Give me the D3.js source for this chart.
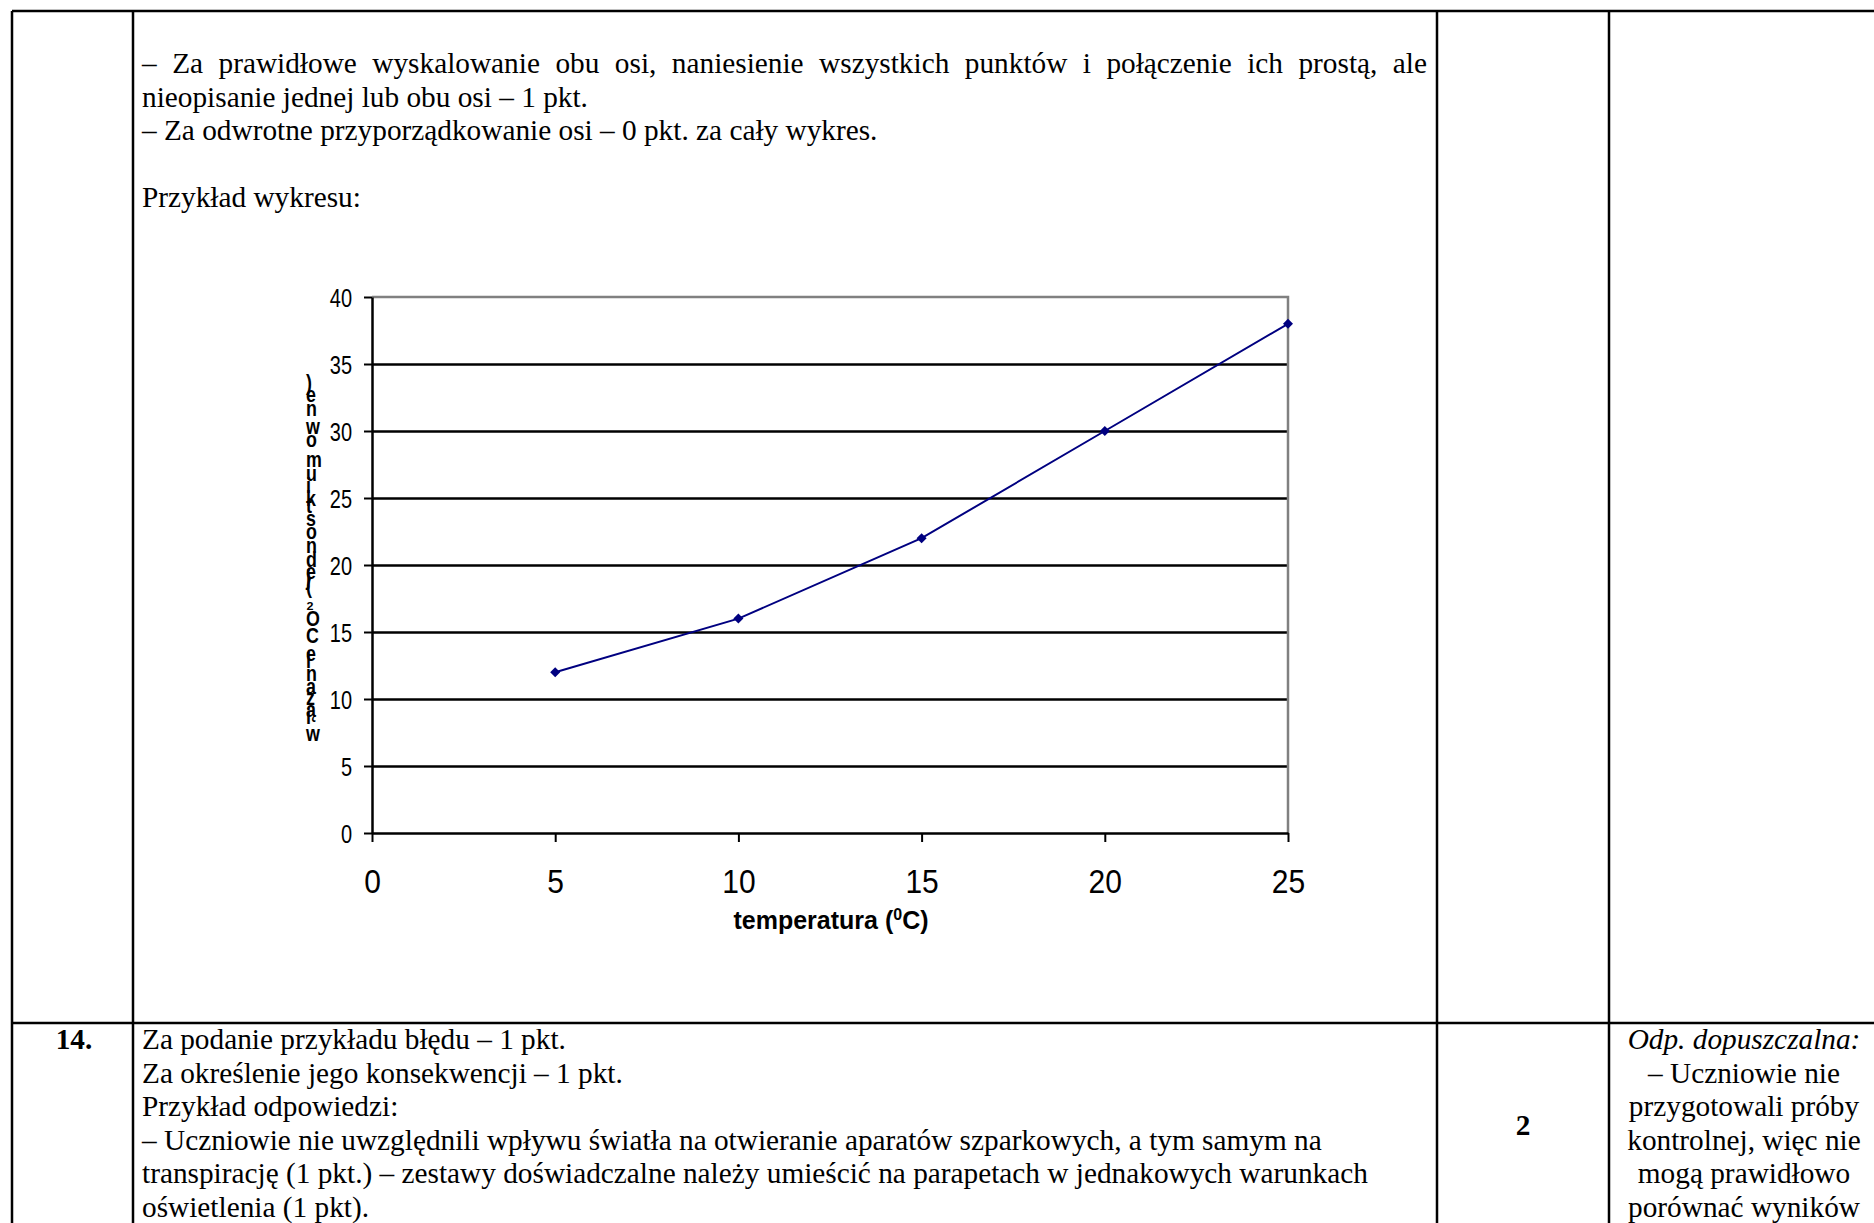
<!DOCTYPE html>
<html>
<head>
<meta charset="utf-8">
<script src="https://cdn.jsdelivr.net/npm/d3@7"></script>
<style>
  body { margin: 0; background: #fff; }
  svg { display: block; }
</style>
</head>
<body>
<svg id="page"></svg>
<script>
// chart data
const temps = [5, 10, 15, 20, 25];
const co2 = [12, 16, 22, 30, 38];
const xTicks = [0, 5, 10, 15, 20, 25];
const yTicks = [0, 5, 10, 15, 20, 25, 30, 35, 40];
const xTitle = "temperatura (";
const yTitle = "wiązanie CO₂ (jednostki umowne)";

// surrounding text of the scoring sheet
const topLines = [
  "– Za prawidłowe wyskalowanie obu osi, naniesienie wszystkich punktów i połączenie ich prostą, ale",
  "nieopisanie jednej lub obu osi – 1 pkt.",
  "– Za odwrotne przyporządkowanie osi – 0 pkt. za cały wykres.",
  "",
  "Przykład wykresu:"
];
const bottomLines = [
  "Za podanie przykładu błędu – 1 pkt.",
  "Za określenie jego konsekwencji – 1 pkt.",
  "Przykład odpowiedzi:",
  "– Uczniowie nie uwzględnili wpływu światła na otwieranie aparatów szparkowych, a tym samym na",
  "transpirację (1 pkt.) – zestawy doświadczalne należy umieścić na parapetach w jednakowych warunkach",
  "oświetlenia (1 pkt)."
];
const noteLines = [
  "Odp. dopuszczalna:",
  "– Uczniowie nie",
  "przygotowali próby",
  "kontrolnej, więc nie",
  "mogą prawidłowo",
  "porównać wyników"
];

const W = 1874, H = 1223;
const svg = d3.select('#page').attr('width', W).attr('height', H);

const serif = "'Liberation Serif', 'Times New Roman', serif";
const sans = "'Liberation Sans', Arial, sans-serif";
const fs = 29.3, lh = 33.6;

// table grid
const cols = [12, 133, 1437, 1609];
const rowTop = 11, rowMid = 1023;
const grid = svg.append('g').attr('stroke', '#000').attr('stroke-width', 2.5);
grid.append('line').attr('x1', cols[0]).attr('x2', W).attr('y1', rowTop).attr('y2', rowTop);
grid.append('line').attr('x1', cols[0]).attr('x2', W).attr('y1', rowMid).attr('y2', rowMid);
cols.forEach(c => grid.append('line').attr('x1', c).attr('x2', c).attr('y1', rowTop).attr('y2', H));

// top cell text
const textX = 142, textRight = 1427;
topLines.forEach((line, i) => {
  if (!line) return;
  const y = 73 + i * lh;
  if (i === 0) {
    // justified line
    const words = line.split(' ');
    const nodes = words.map(w => svg.append('text')
      .attr('y', y).style('font-family', serif).style('font-size', fs + 'px').text(w));
    const widths = nodes.map(n => n.node().getComputedTextLength());
    const gap = (textRight - textX - d3.sum(widths)) / (words.length - 1);
    let x = textX;
    nodes.forEach((n, j) => { n.attr('x', x); x += widths[j] + gap; });
  } else {
    svg.append('text').attr('x', textX).attr('y', y)
      .style('font-family', serif).style('font-size', fs + 'px').text(line);
  }
});

// bottom row
const by = 1049;
svg.append('text').attr('x', 74).attr('y', by).attr('text-anchor', 'middle')
  .style('font-family', serif).style('font-size', fs + 'px').style('font-weight', 'bold').text('14.');
bottomLines.forEach((line, i) => {
  svg.append('text').attr('x', textX).attr('y', by + i * lh)
    .style('font-family', serif).style('font-size', fs + 'px').text(line);
});
svg.append('text').attr('x', 1523).attr('y', 1135).attr('text-anchor', 'middle')
  .style('font-family', serif).style('font-size', fs + 'px').style('font-weight', 'bold').text('2');
noteLines.forEach((line, i) => {
  svg.append('text').attr('x', 1744).attr('y', by + i * lh).attr('text-anchor', 'middle')
    .style('font-family', serif).style('font-size', fs + 'px')
    .style('font-style', i === 0 ? 'italic' : 'normal').text(line);
});

// chart
const x = d3.scaleLinear().domain([0, 25]).range([372, 1288]);
const y = d3.scaleLinear().domain([0, 40]).range([833, 297]);
const chart = svg.append('g');

// gridlines
chart.append('g')
  .attr('transform', `translate(${x(0)},0)`)
  .call(d3.axisLeft(y).tickValues(yTicks.filter(v => v > 0 && v < 40)).tickSize(-(x(25) - x(0))).tickFormat(''))
  .call(g => g.select('.domain').remove())
  .call(g => g.selectAll('line').attr('stroke', '#000').attr('stroke-width', 2.5));

// plot border (top and right) in grey
chart.append('path')
  .attr('d', `M${x(0)},${y(40)}H${x(25)}V${y(0)}`)
  .attr('fill', 'none').attr('stroke', '#808080').attr('stroke-width', 2.5);

// y axis
chart.append('g')
  .attr('transform', `translate(${x(0)},0)`)
  .call(d3.axisLeft(y).tickValues(yTicks).tickSize(8).tickSizeOuter(0))
  .call(g => g.select('.domain').attr('stroke', '#000').attr('stroke-width', 2.5))
  .call(g => g.selectAll('line').attr('stroke', '#000').attr('stroke-width', 2))
  .call(g => g.selectAll('text').attr('x', -20).attr('dy', '0.36em')
    .attr('transform', 'scale(1,1.3)')
    .style('font-family', sans).style('font-size', '20px').attr('fill', '#000'));

// x axis
chart.append('g')
  .attr('transform', `translate(0,${y(0)})`)
  .call(d3.axisBottom(x).tickValues(xTicks).tickSize(9).tickSizeOuter(0))
  .call(g => g.select('.domain').attr('stroke', '#000').attr('stroke-width', 2.5))
  .call(g => g.selectAll('line').attr('stroke', '#000').attr('stroke-width', 2))
  .call(g => g.selectAll('text').attr('y', 0).attr('dy', '0.36em')
    .attr('transform', 'translate(0,48) scale(1,1.1)')
    .style('font-family', sans).style('font-size', '30px').attr('fill', '#000'));

// x title
const xt = chart.append('text')
  .attr('x', (x(0) + x(25)) / 2 + 1).attr('y', 929).attr('text-anchor', 'middle')
  .style('font-family', sans).style('font-size', '25px').style('font-weight', 'bold');
xt.append('tspan').text(xTitle);
xt.append('tspan').attr('dy', -9).style('font-size', '16px').text('0');
xt.append('tspan').attr('dy', 9).text('C)');

// y title: upright glyphs stacked bottom to top
const chars = Array.from(yTitle);
const tfs = 17;
const yt = chart.append('g');
const cnodes = chars.map(c => yt.append('text')
  .style('font-family', sans).style('font-size', tfs + 'px').style('font-weight', 'bold')
  .style('white-space', 'pre').text(c));
const cw = cnodes.map((n, i) => chars[i] === ' ' ? 0.278 * tfs : n.node().getComputedTextLength());
const yBottom = 741, yTopBase = 390;
const k = (yBottom - yTopBase) / d3.sum(cw.slice(0, -1));
let acc = 0;
cnodes.forEach((n, i) => {
  n.attr('transform', `translate(306,${yBottom - acc * k}) scale(1.05,1.3)`);
  acc += cw[i];
});

// series
const pts = temps.map((t, i) => [t, co2[i]]);
chart.append('path')
  .datum(pts)
  .attr('fill', 'none').attr('stroke', '#000080').attr('stroke-width', 2)
  .attr('d', d3.line().x(d => x(d[0])).y(d => y(d[1])));
chart.selectAll('.dot')
  .data(pts)
  .enter().append('path')
  .attr('class', 'dot')
  .attr('transform', d => `translate(${x(d[0])},${y(d[1])})`)
  .attr('d', d3.symbol(d3.symbolDiamond2, 64))
  .attr('fill', '#000080');
</script>
</body>
</html>
